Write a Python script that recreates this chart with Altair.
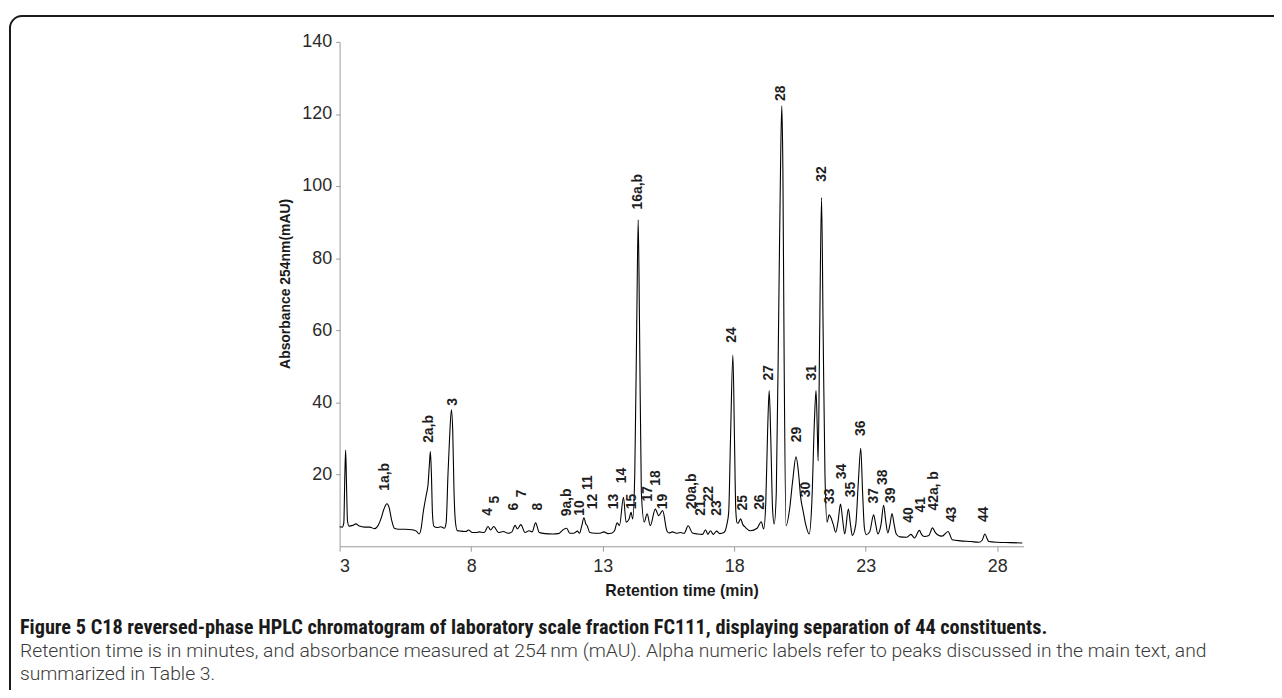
import altair as alt
import pandas as pd

# ---- chromatogram trace ----
retention_time = [
    3.00, 3.10, 3.16, 3.20, 3.23, 3.26, 3.30, 3.36, 3.50, 3.62, 3.75, 3.95, 4.15, 4.32,
    4.45, 4.58, 4.68, 4.80, 4.88, 4.98, 5.08, 5.25, 5.50, 5.75, 5.92, 6.02, 6.10, 6.18,
    6.30, 6.36, 6.42, 6.45, 6.49, 6.53, 6.58, 6.70, 6.85, 6.98, 7.05, 7.12, 7.18, 7.25,
    7.30, 7.35, 7.40, 7.47, 7.60, 7.80, 7.90, 8.05, 8.20, 8.30, 8.50, 8.64, 8.74, 8.86,
    9.04, 9.23, 9.40, 9.55, 9.67, 9.76, 9.89, 10.05, 10.20, 10.32, 10.45, 10.59, 10.80,
    11.10, 11.31, 11.50, 11.63, 11.75, 11.90, 12.04, 12.12, 12.20, 12.29, 12.36, 12.41,
    12.51, 12.70, 12.90, 13.05, 13.20, 13.33, 13.45, 13.55, 13.64, 13.79, 13.89, 14.00,
    14.08, 14.14, 14.22, 14.30, 14.35, 14.40, 14.47, 14.58, 14.69, 14.81, 15.00, 15.13,
    15.28, 15.44, 15.52, 15.65, 15.80, 15.95, 16.10, 16.25, 16.41, 16.60, 16.80, 16.91,
    17.00, 17.10, 17.20, 17.33, 17.45, 17.61, 17.72, 17.79, 17.86, 17.95, 18.01, 18.06,
    18.11, 18.15, 18.24, 18.33, 18.43, 18.61, 18.87, 19.03, 19.12, 19.20, 19.27, 19.33,
    19.39, 19.46, 19.52, 19.60, 19.70, 19.77, 19.81, 19.85, 19.90, 19.97, 20.10, 20.22,
    20.35, 20.45, 20.52, 20.63, 20.72, 20.85, 20.95, 21.05, 21.11, 21.16, 21.19, 21.25,
    21.32, 21.38, 21.45, 21.53, 21.61, 21.76, 21.86, 21.95, 22.04, 22.12, 22.20, 22.34,
    22.42, 22.49, 22.62, 22.72, 22.81, 22.88, 22.95, 23.02, 23.15, 23.30, 23.38, 23.46,
    23.58, 23.68, 23.76, 23.84, 23.92, 24.00, 24.08, 24.16, 24.30, 24.55, 24.72, 24.85,
    25.04, 25.12, 25.23, 25.40, 25.54, 25.63, 25.73, 25.90, 26.13, 26.29, 26.60, 27.00,
    27.30, 27.42, 27.53, 27.62, 27.68, 28.00, 28.50, 28.95,
]
absorbance = [
    5.4, 5.3, 6.5, 20.0, 26.7, 18.0, 7.0, 5.6, 5.8, 6.2, 5.6, 5.3, 5.3, 4.9,
    5.6, 7.8, 10.2, 11.8, 10.8, 7.2, 5.0, 4.7, 4.7, 4.6, 4.2, 3.4, 5.0, 9.5,
    14.5, 17.0, 23.5, 26.3, 20.0, 9.0, 5.6, 5.2, 5.4, 5.0, 6.5, 20.0, 30.0, 37.9,
    32.0, 15.0, 7.0, 4.4, 4.2, 4.1, 4.5, 3.8, 3.8, 4.0, 3.8, 5.5, 4.5, 5.5,
    3.8, 4.1, 3.6, 4.0, 5.8, 4.8, 6.0, 3.8, 4.3, 4.0, 6.5, 3.8, 3.5,
    3.4, 3.5, 4.6, 5.0, 3.6, 3.6, 4.2, 3.6, 5.5, 7.9, 6.2, 5.7,
    3.8, 3.6, 3.6, 4.0, 3.5, 3.6, 4.3, 6.5, 5.8, 13.6, 6.7, 7.5,
    9.4, 7.6, 20.0, 65.0, 90.6, 62.0, 15.0, 6.7, 9.0, 5.7, 10.3, 8.5,
    9.9, 4.3, 3.7, 4.0, 3.6, 3.8, 3.6, 5.7, 3.7, 3.4, 3.3, 4.6,
    3.3, 4.3, 3.3, 4.2, 3.5, 3.8, 6.0, 9.4, 30.0, 53.1, 30.0, 10.0,
    6.5, 6.4, 7.6, 6.0, 5.2, 4.3, 5.0, 6.8, 4.8, 12.0, 32.0, 43.2,
    30.0, 10.0, 6.2, 15.0, 70.0, 110.0, 122.3, 105.0, 50.0, 5.7, 10.0, 18.0,
    24.8, 20.0, 14.0, 9.4, 6.0, 3.4, 12.0, 35.0, 43.2, 32.0, 23.7, 60.0,
    96.8, 60.0, 20.0, 6.7, 8.7, 6.2, 3.9, 7.0, 11.7, 7.5, 3.4, 10.3,
    6.0, 3.0, 6.0, 18.0, 27.2, 15.0, 5.0, 3.2, 4.0, 8.7, 6.0, 3.4,
    6.0, 11.4, 7.0, 3.7, 6.0, 9.1, 6.0, 3.4, 2.6, 2.5, 3.3, 2.3,
    4.4, 3.3, 2.7, 3.0, 5.1, 4.0, 3.2, 2.8, 4.1, 1.8, 1.5, 1.3,
    1.1, 1.6, 3.4, 2.0, 1.3, 1.1, 1.0, 0.9,
]

# ---- peak labels: text, retention time, absorbance at label foot ----
peak_labels = [
    "1a,b", "2a,b", "3", "4", "5", "6", "7", "8", "9a,b", "10", "11", "12", "13", "14",
    "15", "16a,b", "17", "18", "19", "20a,b", "21", "22", "23", "24", "25", "26", "27",
    "28", "29", "30", "31", "32", "33", "34", "35", "36", "37", "38", "39", "40", "41",
    "42a, b", "43", "44",
]
label_time = [
    4.74, 6.40, 7.31, 8.64, 8.92, 9.63, 9.93, 10.53, 11.66, 12.13, 12.44, 12.63, 13.44, 13.73,
    14.11, 14.35, 14.74, 15.03, 15.30, 16.39, 16.75, 17.04, 17.33, 17.92, 18.34, 18.99, 19.31,
    19.79, 20.40, 20.73, 20.95, 21.35, 21.64, 22.11, 22.45, 22.83, 23.33, 23.65, 23.96, 24.63,
    25.12, 25.60, 26.29, 27.49,
]
label_height = [
    15.4, 28.7, 39.0, 8.5, 11.9, 9.9, 13.6, 9.9, 8.3, 8.5, 15.6, 10.3, 10.3, 17.5,
    10.3, 93.5, 12.4, 16.8, 10.3, 10.3, 8.5, 12.4, 8.5, 56.5, 9.9, 10.1, 46.0,
    123.6, 28.9, 13.6, 46.0, 101.2, 11.7, 18.6, 13.6, 30.6, 11.9, 17.0, 12.0, 6.5,
    9.4, 9.9, 6.7, 6.7,
]

x_ticks = [3, 8, 13, 18, 23, 28]
y_ticks = [20, 40, 60, 80, 100, 120, 140]

caption_bold = ("Figure 5 C18 reversed-phase HPLC chromatogram of laboratory scale fraction FC111, "
                "displaying separation of 44 constituents.")
caption_lines = [
    "Retention time is in minutes, and absorbance measured at 254\u2009nm (mAU). Alpha numeric "
    "labels refer to peaks discussed in the main text, and",
    "summarized in Table 3.",
]

trace = pd.DataFrame({"t": retention_time, "a": absorbance})
labels = pd.DataFrame({"label": peak_labels, "t": label_time, "a": label_height})

W = 688.3
H = 507.5
AXIS_FONT = "Liberation Sans, Arial, Helvetica, sans-serif"
CAP_BOLD_FONT = "Roboto Condensed, Liberation Sans Narrow, Lato, sans-serif"
CAP_FONT = "Roboto, Lato, sans-serif"

x_enc = alt.X(
    "t:Q",
    scale=alt.Scale(domain=[3, 29], nice=False, zero=False),
    axis=alt.Axis(
        values=x_ticks, title="Retention time (min)", grid=False,
        domainColor="#9a9a9a", tickColor="#9a9a9a", tickSize=5,
        labelFont=AXIS_FONT, labelFontSize=18, labelColor="#2a2a2a", labelPadding=6,
        titleFont=AXIS_FONT, titleFontSize=16, titleFontWeight="bold", titleColor="#1a1a1a",
        titleBaseline="alphabetic", titleY=50,
    ),
)
y_enc = alt.Y(
    "a:Q",
    scale=alt.Scale(domain=[0, 140], nice=False),
    axis=alt.Axis(
        values=y_ticks, title="Absorbance 254nm(mAU)", grid=False,
        domainColor="#9a9a9a", tickColor="#9a9a9a", tickSize=4,
        labelFont=AXIS_FONT, labelFontSize=18, labelColor="#2a2a2a", labelPadding=4,
        titleFont=AXIS_FONT, titleFontSize=14, titleFontWeight="bold", titleColor="#1a1a1a",
        titleX=-54, titleY=243, titleAngle=270, titleBaseline="middle", titleAlign="center",
    ),
)

line = alt.Chart(trace).mark_line(
    color="black", strokeWidth=1.1, interpolate="monotone"
).encode(x=x_enc, y=y_enc)

peak_text = alt.Chart(labels).mark_text(
    angle=270, align="left", baseline="middle", font=AXIS_FONT,
    fontWeight="bold", fontSize=14, color="#1e1e1e",
).encode(x=x_enc, y=y_enc, text="label:N")

border = alt.Chart(pd.DataFrame({"b": [1]})).mark_rect(
    fillOpacity=0, stroke="#1a1a1a", strokeWidth=2, cornerRadius=12
).encode(x=alt.value(-331.7), x2=alt.value(1200), y=alt.value(-26), y2=alt.value(900))

cap1 = alt.Chart(pd.DataFrame({"c": [caption_bold]})).mark_text(
    align="left", baseline="alphabetic", font=CAP_BOLD_FONT, fontWeight="bold",
    fontSize=20.4, color="#1a1a1a",
).encode(x=alt.value(-321.7), y=alt.value(596), text="c:N")

cap2 = alt.Chart(pd.DataFrame({"c": [1]})).mark_text(
    align="left", baseline="alphabetic", font=CAP_FONT, fontWeight=300,
    fontSize=19.4, lineHeight=23.5, color="#3a3a3a", text=caption_lines,
).encode(x=alt.value(-321.7), y=alt.value(618.5))

chart = alt.layer(border, line, peak_text, cap1, cap2).properties(
    width=W, height=H,
    autosize=alt.AutoSizeParams(type="none"),
    padding={"left": 333.7, "top": 32, "right": 252, "bottom": 142.5},
    background="white",
).configure_view(strokeWidth=0)

chart.save("out.html", embed_options={"renderer": "svg", "actions": False})
